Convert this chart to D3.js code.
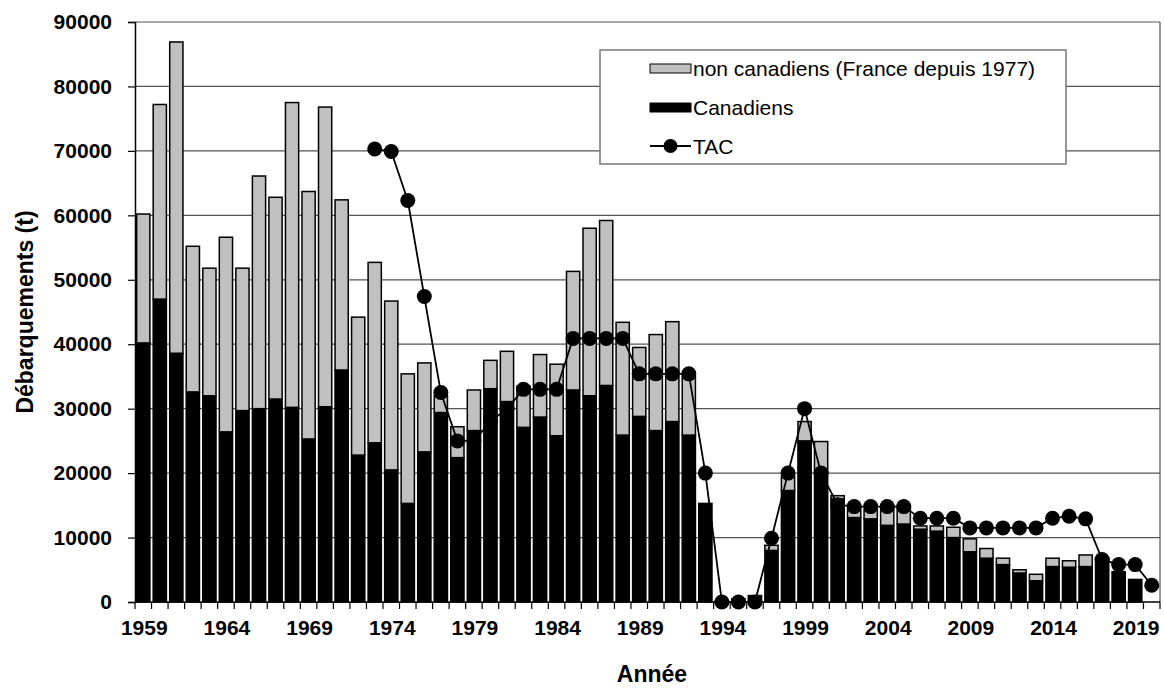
<!DOCTYPE html>
<html>
<head>
<meta charset="utf-8">
<script src="https://cdn.jsdelivr.net/npm/d3@7"></script>
<style>
  body { margin: 0; background: #fff; }
  text { font-family: Arial, "Liberation Sans", sans-serif; }
</style>
</head>
<body>
<div id="chart"></div>
<script>
// data
var years = d3.range(1959, 2021);

var canadiens = [40200, 47000, 38600, 32600, 32000, 26400, 29700, 30000, 31500, 30200,
  25300, 30300, 36000, 22800, 24700, 20500, 15300, 23300, 29400, 22400,
  26600, 33100, 31100, 27100, 28700, 25800, 32900, 32000, 33600, 25900,
  28800, 26600, 28000, 25900, 15300, 200, 500, 1000, 8000, 17300,
  25000, 20200, 16000, 13100, 12900, 11900, 12100, 11300, 11000, 10000,
  7800, 6800, 5800, 4500, 3300, 5500, 5400, 5500, 6500, 4700,
  3500, 0];

var nonCanadiens = [20000, 30200, 48300, 22600, 19800, 30200, 22100, 36100, 31300, 47300,
  38400, 46500, 26400, 21400, 28000, 26200, 20100, 13800, 2600, 4800,
  6300, 4400, 7800, 6400, 9700, 11100, 18400, 26000, 25600, 17500,
  10700, 14900, 15500, 9100, 0, 0, 0, 0, 800, 2200,
  3000, 4700, 500, 1400, 1400, 2700, 2600, 500, 800, 1600,
  2000, 1500, 1000, 500, 1000, 1300, 1000, 1800, 300, 0,
  0, 0];

var tac = [null, null, null, null, null, null, null, null, null, null,
  null, null, null, null, 70300, 69900, 62300, 47400, 32500, 25000,
  25000, 28000, 30000, 33000, 33000, 33000, 40900, 40900, 40900, 40900,
  35400, 35400, 35400, 35400, 20000, 0, 0, 0, 9900, 20000,
  30000, 20000, 15100, 14800, 14800, 14800, 14800, 13000, 13000, 13000,
  11500, 11500, 11500, 11500, 11500, 13000, 13300, 12900, 6600, 5800,
  5800, 2600];

var yTicks = [0, 10000, 20000, 30000, 40000, 50000, 60000, 70000, 80000, 90000];
var xLabels = [1959, 1964, 1969, 1974, 1979, 1984, 1989, 1994, 1999, 2004, 2009, 2014, 2019];

// svg vars
var svgWidth = 1164;
var svgHeight = 688;
var margin = { top: 22, right: 4, bottom: 86, left: 135 };
var width = svgWidth - margin.left - margin.right;
var height = svgHeight - margin.top - margin.bottom;

var svg = d3.select("#chart")
  .append("svg")
  .attr("width", svgWidth)
  .attr("height", svgHeight);

var chartGroup = svg.append("g")
  .attr("transform", `translate(${margin.left}, ${margin.top})`);

// table for the stack
var table = years.map(function(y, i) {
  return { year: y, can: canadiens[i], non: nonCanadiens[i] };
});

var x = d3.scaleBand()
  .domain(years)
  .range([0, width])
  .paddingInner(0.2)
  .paddingOuter(0.1);

var y = d3.scaleLinear()
  .domain([0, 90000])
  .range([height, 0]);

// gridlines
chartGroup.append("g")
  .selectAll("line")
  .data(yTicks.filter(d => d > 0))
  .enter()
  .append("line")
  .attr("x1", 0)
  .attr("x2", width)
  .attr("y1", d => y(d))
  .attr("y2", d => y(d))
  .attr("stroke", "#555")
  .attr("stroke-width", 1.2);

// right frame
chartGroup.append("line")
  .attr("x1", width).attr("x2", width)
  .attr("y1", 0).attr("y2", height)
  .attr("stroke", "#555")
  .attr("stroke-width", 1.2);

// stacked bars
var stack = d3.stack().keys(["can", "non"]);
var series = stack(table);
var fills = { can: "#000", non: "#c0c0c0" };

chartGroup.selectAll("g.series")
  .data(series)
  .enter()
  .append("g")
  .attr("class", "series")
  .attr("fill", d => fills[d.key])
  .selectAll("rect")
  .data(d => d.filter(p => p[1] - p[0] > 0))
  .enter()
  .append("rect")
  .attr("x", d => x(d.data.year))
  .attr("width", x.bandwidth())
  .attr("y", d => y(d[1]))
  .attr("height", d => y(d[0]) - y(d[1]))
  .attr("stroke", "#000")
  .attr("stroke-width", 1.5);

// TAC line
var tacPts = years.map((yr, i) => ({ year: yr, v: tac[i] })).filter(d => d.v !== null);

var line = d3.line()
  .x(d => x(d.year) + x.bandwidth() / 2)
  .y(d => y(d.v));

chartGroup.append("path")
  .datum(tacPts)
  .attr("d", line)
  .attr("fill", "none")
  .attr("stroke", "#000")
  .attr("stroke-width", 1.8);

chartGroup.selectAll("circle.tac")
  .data(tacPts)
  .enter()
  .append("circle")
  .attr("class", "tac")
  .attr("cx", d => x(d.year) + x.bandwidth() / 2)
  .attr("cy", d => y(d.v))
  .attr("r", 7.5)
  .attr("fill", "#000");

// y axis
var leftAxis = d3.axisLeft(y)
  .tickValues(yTicks)
  .tickSize(7)
  .tickFormat(d3.format("d"));

var yAxisG = chartGroup.append("g").call(leftAxis);
yAxisG.select(".domain").attr("stroke", "#000").attr("stroke-width", 1.5);
yAxisG.selectAll(".tick line").attr("stroke", "#000").attr("stroke-width", 1.2);
yAxisG.selectAll(".tick text")
  .attr("x", -23)
  .attr("font-size", 21)
  .attr("font-weight", "bold")
  .attr("fill", "#000");

// x axis: baseline, tick marks between bars, labels every 5 years
chartGroup.append("line")
  .attr("x1", 0).attr("x2", width)
  .attr("y1", height).attr("y2", height)
  .attr("stroke", "#000")
  .attr("stroke-width", 1.5);

chartGroup.append("g")
  .selectAll("line")
  .data(d3.range(years.length + 1))
  .enter()
  .append("line")
  .attr("x1", i => i * x.step())
  .attr("x2", i => i * x.step())
  .attr("y1", height)
  .attr("y2", height + 7)
  .attr("stroke", "#000")
  .attr("stroke-width", 1.2);

chartGroup.append("g")
  .selectAll("text")
  .data(xLabels)
  .enter()
  .append("text")
  .attr("x", d => x(d) + x.bandwidth() / 2 + 1)
  .attr("y", height + 33)
  .attr("text-anchor", "middle")
  .attr("font-size", 21)
  .attr("font-weight", "bold")
  .text(d => d);

// axis titles
svg.append("text")
  .attr("transform", "translate(33, 312) rotate(-90)")
  .attr("text-anchor", "middle")
  .attr("font-size", 23)
  .attr("font-weight", "bold")
  .text("Débarquements (t)");

svg.append("text")
  .attr("x", 652)
  .attr("y", 682)
  .attr("text-anchor", "middle")
  .attr("font-size", 23)
  .attr("font-weight", "bold")
  .text("Année");

// legend
var legend = svg.append("g").attr("transform", "translate(600, 50)");

legend.append("rect")
  .attr("width", 466)
  .attr("height", 114)
  .attr("fill", "#fff")
  .attr("stroke", "#777")
  .attr("stroke-width", 1.5);

legend.append("rect")
  .attr("x", 50).attr("y", 14)
  .attr("width", 41).attr("height", 9)
  .attr("fill", "#c0c0c0")
  .attr("stroke", "#000");

legend.append("rect")
  .attr("x", 50).attr("y", 53)
  .attr("width", 41).attr("height", 9)
  .attr("fill", "#000")
  .attr("stroke", "#000");

legend.append("line")
  .attr("x1", 50).attr("x2", 91)
  .attr("y1", 96).attr("y2", 96)
  .attr("stroke", "#000")
  .attr("stroke-width", 1.8);

legend.append("circle")
  .attr("cx", 70.5).attr("cy", 96)
  .attr("r", 7)
  .attr("fill", "#000");

var legendLabels = ["non canadiens (France depuis 1977)", "Canadiens", "TAC"];
legend.selectAll("text.lab")
  .data(legendLabels)
  .enter()
  .append("text")
  .attr("class", "lab")
  .attr("x", 93)
  .attr("y", (d, i) => 26 + i * 39)
  .attr("font-size", 21)
  .text(d => d);
</script>
</body>
</html>
